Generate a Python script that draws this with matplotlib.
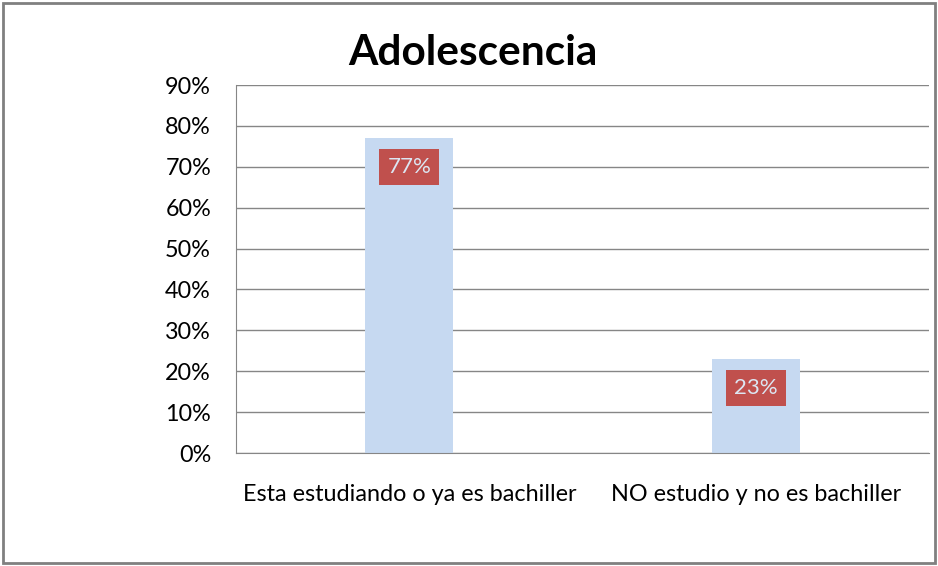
import matplotlib.pyplot as plt
from matplotlib.patches import Rectangle
from matplotlib.ticker import FuncFormatter

categories = ["Esta estudiando o ya es bachiller", "NO estudio y no es bachiller"]
values = [0.77, 0.23]
value_labels = ["77%", "23%"]
yticks = [0.0, 0.1, 0.2, 0.3, 0.4, 0.5, 0.6, 0.7, 0.8, 0.9]

BAR_COLOR = "#C6D9F1"
LABEL_BOX = "#C0504D"
GRID_COLOR = "#868686"

plt.rcParams["font.family"] = ["Lato", "DejaVu Sans"]

fig = plt.figure(figsize=(9.38, 5.66), dpi=100)
fig.patches.append(Rectangle((0.003, 0.005), 0.994, 0.989, transform=fig.transFigure,
                             fill=False, edgecolor="#808080", linewidth=2))

ax = fig.add_axes([236 / 938, 1 - 453 / 566, (929 - 236) / 938, (453 - 85) / 566])
x = range(len(categories))
ax.bar(x, values, width=0.254, color=BAR_COLOR, zorder=2)
ax.set_xlim(-0.5, 1.5)
ax.set_ylim(0, 0.9)
ax.set_yticks(yticks)
ax.yaxis.set_major_formatter(FuncFormatter(lambda v, p: f"{v * 100:.0f}%"))
ax.grid(axis="y", color=GRID_COLOR, linewidth=1, zorder=1)
ax.set_xticks(list(x))
ax.set_xticklabels(categories)
ax.tick_params(axis="both", length=0, labelsize=16.8, colors="#000000")
ax.tick_params(axis="y", pad=18)
ax.tick_params(axis="x", pad=22)
for side in ["top", "right"]:
    ax.spines[side].set_visible(False)
for side in ["left", "bottom"]:
    ax.spines[side].set_color(GRID_COLOR)

for i, (v, lab) in enumerate(zip(values, value_labels)):
    ax.annotate(lab, (i, v), xytext=(0, -28), textcoords="offset points",
                ha="center", va="bottom", fontsize=16, color="#DCE6F2",
                bbox=dict(boxstyle="square,pad=0.36", fc=LABEL_BOX, ec="none"), zorder=3)

fig.text(473 / 938, 1 - 53 / 566, "Adolescencia", ha="center", va="center",
         fontsize=30.5, fontweight="bold")

fig.savefig("out.png", dpi=100)
